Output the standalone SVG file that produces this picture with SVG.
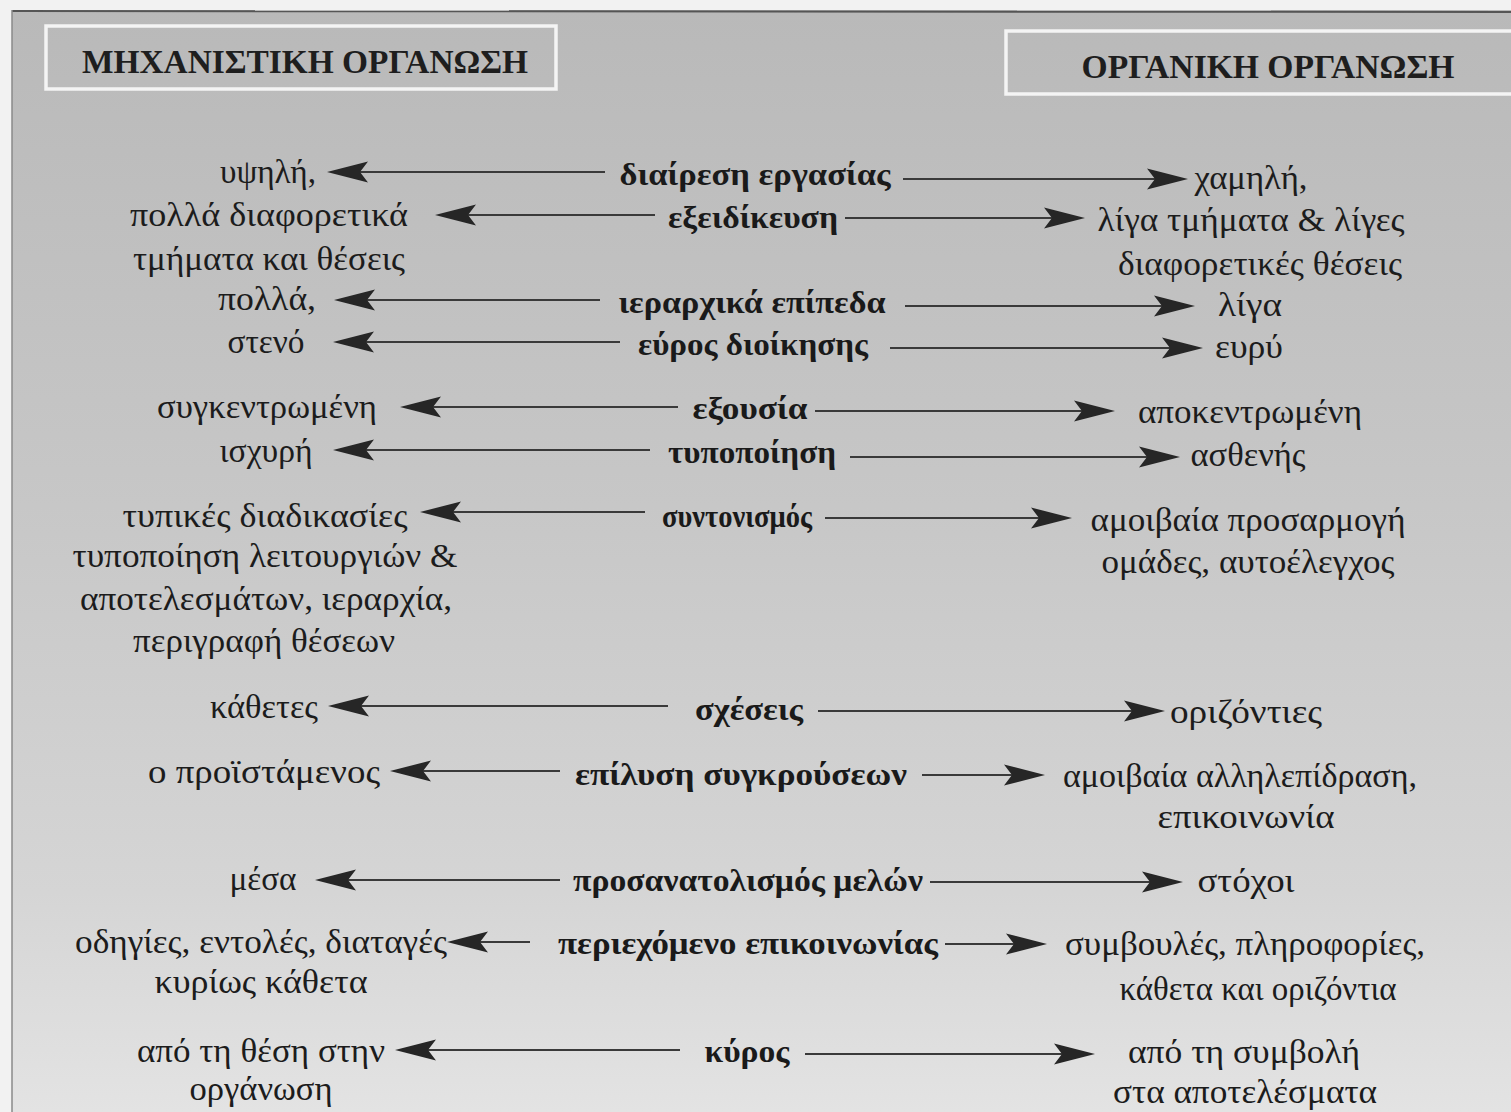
<svg xmlns="http://www.w3.org/2000/svg" width="1511" height="1112" viewBox="0 0 1511 1112">
  <defs>
    <linearGradient id="paper" x1="0" y1="0" x2="0" y2="1">
      <stop offset="0" stop-color="#b9b9b9"/>
      <stop offset="0.45" stop-color="#c7c7c7"/>
      <stop offset="0.8" stop-color="#d5d5d5"/>
      <stop offset="1" stop-color="#e3e3e3"/>
    </linearGradient>
    <marker id="head" markerUnits="userSpaceOnUse" viewBox="-42 -12 44 24" markerWidth="44" markerHeight="24" refX="-30" refY="0" orient="auto" overflow="visible">
      <path d="M0,0 L-41,-10.5 L-33,0 L-41,10.5 Z" fill="#262626"/>
    </marker>
  </defs>
  <style>
    text { lengthAdjust: spacingAndGlyphs; }
    .hdr { font-family: "Liberation Serif", "DejaVu Serif", serif; font-weight: bold; font-size: 33px; fill: #1e1e1e; text-anchor: middle; }
    .side { font-family: "Liberation Serif", "DejaVu Serif", serif; font-size: 33px; fill: #1c1c1c; text-anchor: middle; }
    .key { font-family: "Liberation Serif", "DejaVu Serif", serif; font-weight: bold; font-size: 32px; fill: #1a1a1a; text-anchor: middle; }
    .box { fill: none; stroke: #f4f4f4; stroke-width: 3.5; }
    .arrow { stroke: #3a3a3a; stroke-width: 2.2; fill: none; marker-end: url(#head); }
  </style>

  <!-- page -->
  <rect x="0" y="0" width="1511" height="1112" fill="#f2f2f2"/>
  <rect x="12" y="10" width="1499" height="1102" fill="url(#paper)"/>
  <line x1="12" y1="11" x2="1511" y2="12" stroke="#555" stroke-width="2"/>
  <line x1="12" y1="10" x2="12" y2="1112" stroke="#8a8a8a" stroke-width="1.5"/>

  <!-- column headers -->
  <g id="hdr-mechanistic">
    <rect class="box" x="46" y="26" width="510" height="63"/>
    <text class="hdr" x="305" y="73" textLength="446" lengthAdjust="spacingAndGlyphs">ΜΗΧΑΝΙΣΤΙΚΗ ΟΡΓΑΝΩΣΗ</text>
  </g>
  <g id="hdr-organic">
    <rect class="box" x="1006" y="31" width="520" height="63"/>
    <text class="hdr" x="1268" y="78" textLength="373" lengthAdjust="spacingAndGlyphs">ΟΡΓΑΝΙΚΗ ΟΡΓΑΝΩΣΗ</text>
  </g>

  <!-- connectors: from each dimension outwards to both forms -->
  <g id="connectors">
    <line class="arrow" x1="605" y1="172" x2="357" y2="172"/>
    <line class="arrow" x1="903" y1="179" x2="1158" y2="179"/>
    <line class="arrow" x1="655" y1="215" x2="465" y2="215"/>
    <line class="arrow" x1="845" y1="218" x2="1055" y2="218"/>
    <line class="arrow" x1="600" y1="300" x2="364" y2="300"/>
    <line class="arrow" x1="905" y1="306" x2="1165" y2="306"/>
    <line class="arrow" x1="620" y1="342" x2="363" y2="342"/>
    <line class="arrow" x1="890" y1="348" x2="1173" y2="348"/>
    <line class="arrow" x1="678" y1="407" x2="430" y2="407"/>
    <line class="arrow" x1="815" y1="411" x2="1085" y2="411"/>
    <line class="arrow" x1="650" y1="450" x2="363" y2="450"/>
    <line class="arrow" x1="850" y1="457" x2="1150" y2="457"/>
    <line class="arrow" x1="645" y1="512" x2="450" y2="512"/>
    <line class="arrow" x1="825" y1="518" x2="1042" y2="518"/>
    <line class="arrow" x1="668" y1="706" x2="358" y2="706"/>
    <line class="arrow" x1="818" y1="711" x2="1135" y2="711"/>
    <line class="arrow" x1="560" y1="771" x2="420" y2="771"/>
    <line class="arrow" x1="922" y1="775" x2="1015" y2="775"/>
    <line class="arrow" x1="560" y1="880" x2="345" y2="880"/>
    <line class="arrow" x1="930" y1="882" x2="1153" y2="882"/>
    <line class="arrow" x1="530" y1="942" x2="477" y2="942"/>
    <line class="arrow" x1="945" y1="944" x2="1017" y2="944"/>
    <line class="arrow" x1="680" y1="1050" x2="425" y2="1050"/>
    <line class="arrow" x1="805" y1="1054" x2="1065" y2="1054"/>
  </g>

  <!-- dimensions (centre column) -->
  <g id="dim-division">
    <text class="key" x="755" y="185" textLength="271" lengthAdjust="spacingAndGlyphs">διαίρεση εργασίας</text>
  </g>
  <g id="dim-specialisation">
    <text class="key" x="753" y="228" textLength="170" lengthAdjust="spacingAndGlyphs">εξειδίκευση</text>
  </g>
  <g id="dim-levels">
    <text class="key" x="752" y="313" textLength="267" lengthAdjust="spacingAndGlyphs">ιεραρχικά επίπεδα</text>
  </g>
  <g id="dim-span">
    <text class="key" x="753" y="355" textLength="230" lengthAdjust="spacingAndGlyphs">εύρος διοίκησης</text>
  </g>
  <g id="dim-authority">
    <text class="key" x="750" y="419" textLength="115" lengthAdjust="spacingAndGlyphs">εξουσία</text>
  </g>
  <g id="dim-formalisation">
    <text class="key" x="752" y="463" textLength="168" lengthAdjust="spacingAndGlyphs">τυποποίηση</text>
  </g>
  <g id="dim-coordination">
    <text class="key" x="737" y="527" textLength="150" lengthAdjust="spacingAndGlyphs">συντονισμός</text>
  </g>
  <g id="dim-relations">
    <text class="key" x="749" y="720" textLength="108" lengthAdjust="spacingAndGlyphs">σχέσεις</text>
  </g>
  <g id="dim-conflict">
    <text class="key" x="741" y="785" textLength="332" lengthAdjust="spacingAndGlyphs">επίλυση συγκρούσεων</text>
  </g>
  <g id="dim-orientation">
    <text class="key" x="748" y="891" textLength="350" lengthAdjust="spacingAndGlyphs">προσανατολισμός μελών</text>
  </g>
  <g id="dim-communication">
    <text class="key" x="748" y="954" textLength="380" lengthAdjust="spacingAndGlyphs">περιεχόμενο επικοινωνίας</text>
  </g>
  <g id="dim-prestige">
    <text class="key" x="747" y="1062" textLength="85" lengthAdjust="spacingAndGlyphs">κύρος</text>
  </g>

  <!-- mechanistic column -->
  <g id="mech-division"><text class="side" x="268" y="183" textLength="96" lengthAdjust="spacingAndGlyphs">υψηλή,</text></g>
  <g id="mech-specialisation">
    <text class="side" x="269" y="226" textLength="278" lengthAdjust="spacingAndGlyphs">πολλά διαφορετικά</text>
    <text class="side" x="269" y="270" textLength="272" lengthAdjust="spacingAndGlyphs">τμήματα και θέσεις</text>
  </g>
  <g id="mech-levels"><text class="side" x="267" y="310" textLength="98" lengthAdjust="spacingAndGlyphs">πολλά,</text></g>
  <g id="mech-span"><text class="side" x="266" y="353" textLength="77" lengthAdjust="spacingAndGlyphs">στενό</text></g>
  <g id="mech-authority"><text class="side" x="267" y="418" textLength="220" lengthAdjust="spacingAndGlyphs">συγκεντρωμένη</text></g>
  <g id="mech-formalisation"><text class="side" x="266" y="462" textLength="93" lengthAdjust="spacingAndGlyphs">ισχυρή</text></g>
  <g id="mech-coordination">
    <text class="side" x="265" y="527" textLength="285" lengthAdjust="spacingAndGlyphs">τυπικές διαδικασίες</text>
    <text class="side" x="265" y="567" textLength="385" lengthAdjust="spacingAndGlyphs">τυποποίηση λειτουργιών &amp;</text>
    <text class="side" x="266" y="610" textLength="372" lengthAdjust="spacingAndGlyphs">αποτελεσμάτων, ιεραρχία,</text>
    <text class="side" x="264" y="652" textLength="262" lengthAdjust="spacingAndGlyphs">περιγραφή θέσεων</text>
  </g>
  <g id="mech-relations"><text class="side" x="264" y="718" textLength="108" lengthAdjust="spacingAndGlyphs">κάθετες</text></g>
  <g id="mech-conflict"><text class="side" x="264" y="783" textLength="232" lengthAdjust="spacingAndGlyphs">ο προϊστάμενος</text></g>
  <g id="mech-orientation"><text class="side" x="263" y="890" textLength="67" lengthAdjust="spacingAndGlyphs">μέσα</text></g>
  <g id="mech-communication">
    <text class="side" x="261" y="953" textLength="372" lengthAdjust="spacingAndGlyphs">οδηγίες, εντολές, διαταγές</text>
    <text class="side" x="261" y="993" textLength="213" lengthAdjust="spacingAndGlyphs">κυρίως κάθετα</text>
  </g>
  <g id="mech-prestige">
    <text class="side" x="261" y="1062" textLength="248" lengthAdjust="spacingAndGlyphs">από τη θέση στην</text>
    <text class="side" x="261" y="1100" textLength="143" lengthAdjust="spacingAndGlyphs">οργάνωση</text>
  </g>

  <!-- organic column -->
  <g id="org-division"><text class="side" x="1251" y="189" textLength="113" lengthAdjust="spacingAndGlyphs">χαμηλή,</text></g>
  <g id="org-specialisation">
    <text class="side" x="1251" y="231" textLength="307" lengthAdjust="spacingAndGlyphs">λίγα τμήματα &amp; λίγες</text>
    <text class="side" x="1260" y="275" textLength="284" lengthAdjust="spacingAndGlyphs">διαφορετικές θέσεις</text>
  </g>
  <g id="org-levels"><text class="side" x="1250" y="316" textLength="64" lengthAdjust="spacingAndGlyphs">λίγα</text></g>
  <g id="org-span"><text class="side" x="1249" y="358" textLength="68" lengthAdjust="spacingAndGlyphs">ευρύ</text></g>
  <g id="org-authority"><text class="side" x="1250" y="423" textLength="224" lengthAdjust="spacingAndGlyphs">αποκεντρωμένη</text></g>
  <g id="org-formalisation"><text class="side" x="1248" y="466" textLength="115" lengthAdjust="spacingAndGlyphs">ασθενής</text></g>
  <g id="org-coordination">
    <text class="side" x="1248" y="531" textLength="315" lengthAdjust="spacingAndGlyphs">αμοιβαία προσαρμογή</text>
    <text class="side" x="1248" y="573" textLength="293" lengthAdjust="spacingAndGlyphs">ομάδες, αυτοέλεγχος</text>
  </g>
  <g id="org-relations"><text class="side" x="1246" y="723" textLength="152" lengthAdjust="spacingAndGlyphs">οριζόντιες</text></g>
  <g id="org-conflict">
    <text class="side" x="1240" y="787" textLength="354" lengthAdjust="spacingAndGlyphs">αμοιβαία αλληλεπίδραση,</text>
    <text class="side" x="1246" y="828" textLength="177" lengthAdjust="spacingAndGlyphs">επικοινωνία</text>
  </g>
  <g id="org-orientation"><text class="side" x="1246" y="892" textLength="97" lengthAdjust="spacingAndGlyphs">στόχοι</text></g>
  <g id="org-communication">
    <text class="side" x="1245" y="955" textLength="360" lengthAdjust="spacingAndGlyphs">συμβουλές, πληροφορίες,</text>
    <text class="side" x="1258" y="1000" textLength="277" lengthAdjust="spacingAndGlyphs">κάθετα και οριζόντια</text>
  </g>
  <g id="org-prestige">
    <text class="side" x="1244" y="1063" textLength="232" lengthAdjust="spacingAndGlyphs">από τη συμβολή</text>
    <text class="side" x="1245" y="1103" textLength="264" lengthAdjust="spacingAndGlyphs">στα αποτελέσματα</text>
  </g>
</svg>
